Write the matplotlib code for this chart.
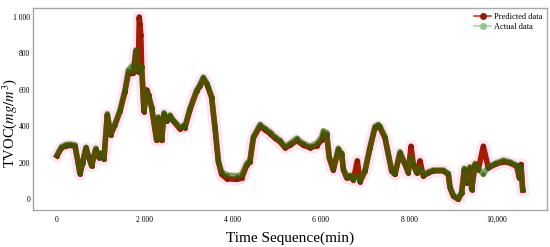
import matplotlib
matplotlib.use("Agg")
import matplotlib.pyplot as plt
from matplotlib.lines import Line2D

plt.rcParams['font.family'] = ['Liberation Serif', 'DejaVu Serif']
plt.rcParams['mathtext.fontset'] = 'stix'

# time in minutes
time_min = [0, 100, 200, 300, 410, 485, 523, 580, 660, 720, 788, 880, 955, 1000,
            1068, 1144, 1220, 1318, 1432, 1545, 1621, 1697, 1735, 1795, 1848, 1870,
            1886, 1905, 1924, 1977, 2038, 2083, 2152, 2265, 2303, 2379, 2432, 2492,
            2530, 2568, 2644, 2682, 2795, 2871, 2909, 3023, 3174, 3250, 3326, 3400,
            3439, 3515, 3591, 3667, 3742, 3856, 4083, 4197, 4311, 4386, 4462, 4614,
            4727, 4841, 4955, 5068, 5182, 5295, 5447, 5598, 5750, 5902, 6015, 6053,
            6129, 6189, 6280, 6394, 6470, 6508, 6584, 6659, 6735, 6826, 6886, 7000,
            7114, 7227, 7300, 7341, 7455, 7530, 7606, 7682, 7795, 7909, 7984, 8045,
            8098, 8174, 8250, 8326, 8439, 8553, 8780, 8894, 8932, 9008, 9121, 9197,
            9258, 9311, 9386, 9424, 9500, 9576, 9689, 9803, 9955, 10144, 10295, 10447,
            10508, 10545, 10583]

actual = [242, 288, 300, 302, 298, 196, 141, 200, 285, 235, 187, 279, 233, 255,
          222, 469, 359, 414, 489, 599, 709, 730, 700, 820, 709, 715,
          720, 720, 727, 489, 590, 560, 508, 330, 452, 330, 475, 434,
          452, 462, 434, 425, 395, 405, 400, 500, 599, 630, 670, 640,
          617, 563, 397, 214, 150, 132, 128, 135, 196, 214, 343, 410,
          389, 370, 343, 324, 290, 306, 334, 306, 290, 306, 340, 375,
          365, 233, 165, 279, 251, 169, 123, 132, 110, 125, 100, 160,
          288, 400, 410, 400, 343, 251, 160, 141, 260, 196, 150, 230,
          196, 150, 170, 132, 150, 160, 160, 141, 68, 22, 4, 40,
          169, 95, 178, 57, 196, 169, 135, 178, 196, 214, 205, 187,
          123, 178, 57]

predicted = [238, 280, 292, 295, 290, 192, 138, 196, 280, 230, 182, 272, 228, 250,
             218, 462, 352, 408, 482, 590, 690, 690, 690, 815, 700, 1000,
             960, 900, 727, 480, 600, 570, 500, 322, 445, 322, 468, 428,
             445, 455, 428, 418, 385, 398, 392, 492, 592, 622, 662, 632,
             610, 556, 390, 205, 135, 112, 108, 115, 185, 205, 335, 400,
             380, 360, 334, 315, 282, 295, 322, 296, 282, 292, 325, 355,
             350, 225, 158, 270, 244, 162, 116, 125, 104, 210, 95, 153,
             280, 392, 402, 392, 335, 244, 153, 135, 252, 190, 144, 290,
             190, 144, 210, 126, 144, 155, 155, 135, 62, 16, -2, 34,
             162, 88, 171, 52, 188, 162, 290, 171, 190, 206, 198, 180,
             116, 190, 50]

xticks = [0, 2000, 4000, 6000, 8000, 10000]
xtick_labels = ['0', '2 000', '4 000', '6 000', '8 000', '10,000']
yticks = [0, 200, 400, 600, 800, 1000]
ytick_labels = ['0', '200', '400', '600', '800', '1 000']

fig = plt.figure(figsize=(5.5, 2.47), dpi=100)
ax = fig.add_axes([0.06, 0.15, 0.9345, 0.818])

# faint pink halo around the curves
ax.plot(time_min, predicted, color='#ffd9ee', lw=9, alpha=0.7, zorder=1,
        solid_joinstyle='round')
ax.plot(time_min, predicted, color='#a51c00', lw=4, marker='o', ms=2.5,
        mec='#8b1a00', mfc='#8b1a00', zorder=2)
ax.plot(time_min, actual, color='#2c6e00', lw=4, marker='o', ms=2.5,
        mec='#335c00', mfc='#335c00', alpha=0.6, zorder=3)

ax.set_xlim(-545, 11136)
ax.set_ylim(-60, 1050)
ax.set_xticks(xticks)
ax.set_xticklabels(xtick_labels)
ax.set_yticks(yticks)
ax.set_yticklabels(ytick_labels)
ax.tick_params(axis='y', length=0, labelsize=5.5, pad=2)
ax.tick_params(axis='x', length=0, labelsize=5.5, pad=4)

for sp in ax.spines.values():
    sp.set_color('#a8a8a8')
    sp.set_linewidth(1.0)

ax.set_xlabel('Time Sequence(min)', fontsize=11, labelpad=6)
ax.set_ylabel('TVOC($mg/m^3$)', fontsize=10.5)
ax.yaxis.set_label_coords(-0.028, 0.43)

handles = [
    Line2D([], [], color='#e03030', lw=1.2, marker='o', ms=4,
           mfc='#9a1a00', mec='#9a1a00'),
    Line2D([], [], color='#a8d8a0', lw=1.2, marker='o', ms=4,
           mfc='#90c888', mec='#90c888'),
]
ax.legend(handles, ['Predicted data', 'Actual data'], loc='upper right',
          frameon=False, fontsize=6, handlelength=2.0, handletextpad=0.3,
          labelspacing=0.2, borderaxespad=0.2)

fig.savefig('out.png', dpi=100)
